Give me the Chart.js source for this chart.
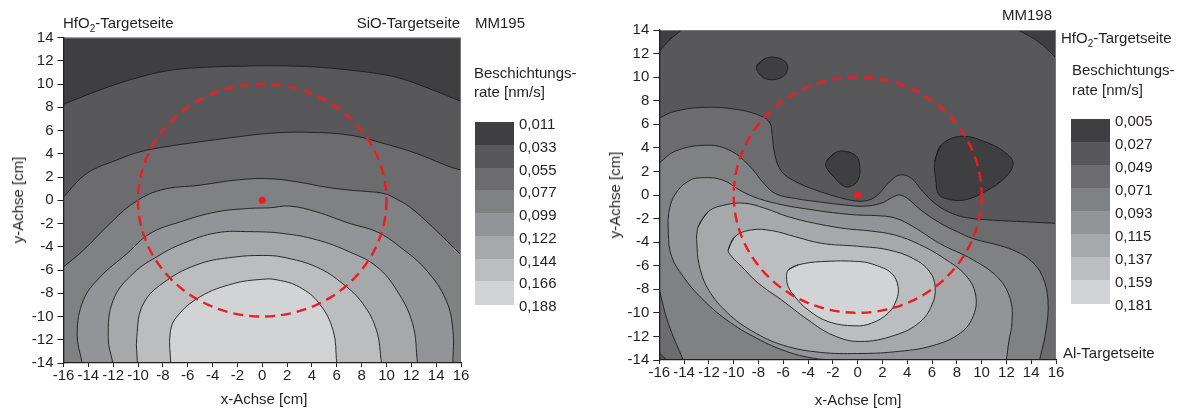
<!DOCTYPE html>
<html>
<head>
<meta charset="utf-8">
<script src="https://cdn.jsdelivr.net/npm/chart.js@4.4.0/dist/chart.umd.min.js"></script>
<style>
  html, body { margin: 0; padding: 0; background: #fff; }
  body { width: 1184px; height: 410px; position: relative; overflow: hidden;
         font-family: "Liberation Sans", Arial, sans-serif; color: #231f20; }
  canvas { position: absolute; top: 0; }
  .t { position: absolute; font-size: 15px; line-height: 18px; white-space: nowrap; }
  .t sub { font-size: 10px; line-height: 0; vertical-align: baseline; position: relative; top: 4px; }
  .sw { position: absolute; }
</style>
</head>
<body>
<canvas id="mm195" width="595" height="410" style="left:0"></canvas>
<canvas id="mm198" width="589" height="410" style="left:595px"></canvas>

<div class="t" style="left:63px;top:14px">HfO<sub>2</sub>-Targetseite</div>
<div class="t" style="right:724px;top:14px">SiO-Targetseite</div>
<div class="t" style="left:475px;top:14px">MM195</div>
<div class="t" style="left:474px;top:64px">Beschichtungs-</div>
<div class="t" style="left:474px;top:83px">rate [nm/s]</div>
<div class="t" style="left:264px;top:390px;transform:translateX(-50%)">x-Achse [cm]</div>
<div class="t" style="left:18px;top:200px;transform:translate(-50%,-50%) rotate(-90deg)">y-Achse [cm]</div>

<div class="t" style="left:1002px;top:6px">MM198</div>
<div class="t" style="left:1061px;top:29px">HfO<sub>2</sub>-Targetseite</div>
<div class="t" style="left:1072px;top:61px">Beschichtungs-</div>
<div class="t" style="left:1072px;top:81px">rate [nm/s]</div>
<div class="t" style="left:1063px;top:344px">Al-Targetseite</div>
<div class="t" style="left:858px;top:391px;transform:translateX(-50%)">x-Achse [cm]</div>
<div class="t" style="left:615px;top:195px;transform:translate(-50%,-50%) rotate(-90deg)">y-Achse [cm]</div>

<div id="keys"></div>

<script>
// ---- axes ----
const xTicks = [-16, -14, -12, -10, -8, -6, -4, -2, 0, 2, 4, 6, 8, 10, 12, 14, 16];
const yTicks = [-14, -12, -10, -8, -6, -4, -2, 0, 2, 4, 6, 8, 10, 12, 14];

// ---- rate classes [nm/s] ----
const mm195Levels = ['0,011', '0,033', '0,055', '0,077', '0,099', '0,122', '0,144', '0,166', '0,188'];
const mm198Levels = ['0,005', '0,027', '0,049', '0,071', '0,093', '0,115', '0,137', '0,159', '0,181'];

// ---- substrate outline and centre [cm] ----
const substrateCentre = [0, 0];
const substrateRadius = 10;

// ---- MM195 contour lines [x, y in cm] ----
const mm195Line1 = [[-16,8.26],[-13.05,9.49],[-10.37,10.44],[-7.69,11.13],[-5.01,11.41],[-1.0,11.55],[2.0,11.55],[4.5,11.45],[7.05,11.2],[9.5,10.85],[11.07,10.5],[13.7,9.5],[16,8.5]];
const mm195Line2 = [[-16,0.29],[-14.12,2.31],[-11.71,3.46],[-9.83,4.17],[-7.5,4.65],[-5.01,5.03],[-2.0,5.45],[0.61,5.76],[3.5,5.85],[7.05,5.6],[9.72,4.9],[12.4,4.03],[15.1,2.88],[16,2.6]];
const mm195Line3 = [[-16,-5.74],[-14.4,-4.3],[-12.25,-2.0],[-10.4,-0.27],[-8.2,0.87],[-5.0,1.3],[-2.0,1.75],[0.61,1.85],[3.0,1.55],[5.0,1.15],[7.05,0.87],[8.5,0.75],[9.9,0.55],[10.8,0.1],[11.87,-0.57],[13.7,-2.3],[16,-4.7]];
const mm195Line4 = [[-14.5,-14],[-14.9,-11.5],[-14.4,-8.6],[-13.05,-6.6],[-10.9,-4.6],[-9.03,-2.86],[-6.6,-1.86],[-3.67,-1.0],[-1.0,-0.7],[0.6,-0.65],[2.2,-0.5],[4.37,-1.0],[7.05,-2.0],[9.2,-2.7],[11.07,-4.0],[13.2,-6.0],[14.8,-8.6],[15.35,-11.2],[15.35,-14]];
const mm195Line5 = [[-12.03,-14],[-12.4,-11.8],[-12.0,-8.6],[-10.4,-6.3],[-8.23,-4.7],[-6.35,-3.7],[-3.67,-2.8],[-1.0,-2.7],[1.68,-2.86],[4.37,-3.4],[7.05,-4.45],[9.2,-5.7],[10.8,-7.7],[12.1,-10.6],[12.5,-14]];
const mm195Line6 = [[-10.05,-14],[-10.1,-11.8],[-9.57,-8.9],[-7.7,-6.9],[-5.0,-5.45],[-2.33,-4.9],[0.0,-4.75],[1.68,-4.9],[4.37,-5.74],[6.5,-7.2],[8.1,-8.9],[9.2,-11.2],[9.6,-14]];
const mm195Line7 = [[-7.37,-14],[-7.42,-11.5],[-6.9,-10.05],[-5.0,-8.3],[-2.33,-7.17],[0.0,-6.8],[1.2,-6.85],[3.0,-7.47],[4.6,-8.9],[5.7,-11.2],[6.0,-14]];

// ---- MM198 contour lines [x, y in cm] ----
const mm198CornerTL = [[-16,12.19],[-15.14,13.18],[-14.2,14]];
const mm198CornerTR = [[12.93,14],[14.54,13.04],[16,11.63]];
const mm198IslandN = [[-8.15,10.92],[-7.48,11.57],[-6.68,11.68],[-5.87,11.34],[-5.65,10.72],[-6.0,10.07],[-6.94,9.78],[-7.75,10.07]];
const mm198IslandC = [[-2.51,2.86],[-1.84,3.57],[-1.04,3.71],[-0.1,3.29],[0.17,2.41],[0.04,1.28],[-0.63,0.71],[-1.2,0.8],[-1.84,1.45],[-2.51,2.3]];
const mm198IslandE = [[6.22,2.86],[6.76,4.27],[8.37,4.98],[10.51,4.42],[12.12,3.42],[12.53,2.58],[11.86,1.45],[10.51,0.43],[8.63,-0.42],[7.02,-0.27],[6.48,0.15],[6.35,0.88]];
const mm198Line1 = [[-16,6.54],[-14.74,7.1],[-12.32,7.44],[-9.63,7.24],[-7.75,6.68],[-7.08,6.11],[-6.9,5.12],[-6.68,3.42],[-6.14,2.01],[-5.07,1.17],[-3.45,0.45],[-1.84,-0.1],[-0.5,-0.45],[0.6,-0.5],[1.5,-0.1],[2.59,1.13],[3.4,1.7],[4.34,1.42],[5.14,0.43],[6.22,-0.7],[7.29,-1.41],[8.63,-1.89],[10.51,-2.11],[13.2,-2.26],[16,-2.4]];
const mm198Line1b = [[-16,-13.4],[-15.4,-14]];
const mm198Line2 = [[-16,2.72],[-14.74,3.71],[-12.32,4.22],[-10.44,3.85],[-8.83,2.58],[-7.48,0.88],[-6.6,0.1],[-5.0,-0.3],[-3.0,-0.6],[-1.0,-0.85],[0.5,-0.95],[1.9,-0.7],[2.8,-0.2],[3.4,0.0],[4.1,-0.35],[5.0,-1.2],[6.6,-2.35],[8.0,-3.1],[9.3,-3.7],[11.5,-4.3],[12.8,-4.8],[14.0,-5.6],[14.9,-6.9],[15.35,-8.9],[15.2,-11.45],[14.68,-14]];
const mm198Line2b = [[-16,-8.05],[-15.27,-10.9],[-14.07,-14]];
const mm198Line3 = [[-2.0,-14],[-3.58,-13.85],[-5.73,-13.28],[-8.15,-12.15],[-10.57,-10.6],[-12.72,-8.62],[-14.07,-6.92],[-15.0,-5.23],[-15.27,-3.24],[-15.14,-0.99],[-14.47,0.43],[-13.6,1.2],[-12.86,1.45],[-10.97,1.3],[-9.36,0.32],[-8.0,-0.3],[-6.0,-0.85],[-4.0,-1.2],[-2.0,-1.5],[0,-1.7],[1.5,-1.75],[3.0,-1.95],[4.5,-2.7],[6.6,-4.1],[9.3,-5.5],[11.3,-7.0],[12.3,-8.8],[12.45,-10.8],[12.2,-12.4],[12.0,-14]];
const mm198Line4 = [[-12.86,-2.68],[-12.05,-1.41],[-10.7,-0.84],[-9.1,-0.7],[-7.48,-1.13],[-5.6,-1.84],[-3.45,-2.4],[-1.0,-2.85],[1.0,-3.05],[3.0,-3.4],[5.0,-4.2],[7.0,-5.4],[8.7,-6.8],[9.5,-8.4],[9.35,-10.2],[8.3,-11.7],[6.0,-12.8],[3.0,-13.3],[0,-13.45],[-3.0,-13.35],[-6.0,-12.75],[-8.5,-11.55],[-10.5,-10.0],[-12.0,-8.1],[-12.7,-6.3],[-12.95,-4.5]];
const mm198Line5 = [[-10.44,-4.66],[-9.9,-3.53],[-8.55,-2.96],[-6.94,-3.02],[-5.07,-3.53],[-2.91,-4.1],[0,-4.35],[2.45,-4.65],[4.5,-5.4],[5.8,-6.5],[6.25,-7.8],[6.0,-9.3],[5.0,-10.8],[3.0,-11.9],[0.17,-12.43],[-1.98,-11.9],[-4.0,-10.6],[-6.14,-8.9],[-8.02,-7.48],[-9.36,-6.07],[-10.17,-5.2]];
const mm198Line6 = [[-5.6,-6.36],[-4.8,-5.93],[-2.91,-5.65],[0.17,-5.65],[1.38,-5.93],[2.73,-6.64],[3.26,-7.77],[3.13,-8.9],[2.45,-10.03],[1.11,-10.88],[-0.23,-11.1],[-2.38,-10.74],[-4.0,-9.75],[-5.07,-8.62],[-5.6,-7.77],[-5.73,-6.92]];

const plotFrame = [[-16,-14],[16,-14],[16,14],[-16,14],[-16,-14]];

// ---- styling ----
const shades = ['#3f3f41', '#58585a', '#6c6c6e', '#808183', '#939497', '#a7a8aa', '#bcbdbf', '#d2d3d5'];
const FONT = '"Liberation Sans", Arial, sans-serif';
const INK = '#231f20';
Chart.defaults.font.family = FONT;

// ---- helpers building closed outlines from the contour runs ----
const pts  = run => run.map(p => ({ x: p[0], y: p[1] }));
const bend = run => [run[0], ...run, run[run.length - 1]];   // doubled ends keep edge segments straight
const loop = run => [...run, run[0], run[1]];
const rev  = run => run.slice().reverse();

function band(points, colour, extra) {
  return Object.assign({
    data: pts(points), backgroundColor: colour, borderColor: '#1c1c1c', borderWidth: 0.9,
    fill: 'shape', tension: 0.4, pointRadius: 0, pointHoverRadius: 0, pointHitRadius: 0
  }, extra || {});
}
function stack(list) {
  list.forEach((d, i) => { d.order = list.length - i + 1; });
  list.push({ data: pts([substrateCentre]), showLine: false, fill: false, order: 0,
              pointRadius: 3.6, pointBackgroundColor: '#ec1c24', pointBorderWidth: 0 });
  return list;
}

const mm195Sets = stack([
  band(plotFrame, shades[0], { tension: 0, borderWidth: 0 }),
  band([...bend(mm195Line1), ...bend([[16,-14],[-16,-14]]), mm195Line1[0]], shades[1]),
  band([...bend(mm195Line2), ...bend([[16,-14],[-16,-14]]), mm195Line2[0]], shades[2]),
  band([...bend(mm195Line3), ...bend([[16,-14],[-16,-14]]), mm195Line3[0]], shades[3]),
  band([...bend(mm195Line4), mm195Line4[0]], shades[4]),
  band([...bend(mm195Line5), mm195Line5[0]], shades[5]),
  band([...bend(mm195Line6), mm195Line6[0]], shades[6]),
  band([...bend(mm195Line7), mm195Line7[0]], shades[7])
]);

const mm198Sets = stack([
  band(plotFrame, shades[1], { tension: 0, borderWidth: 0 }),
  band([...bend(mm198CornerTL), ...bend([[-16,14]]), mm198CornerTL[0]], shades[0]),
  band([...bend(mm198CornerTR), ...bend([[16,14]]), mm198CornerTR[0]], shades[0]),
  band(loop(mm198IslandN), shades[0]),
  band(loop(mm198IslandC), shades[0]),
  band(loop(mm198IslandE), shades[0]),
  band([...bend(mm198Line1), ...bend([[16,-14]]), ...bend(rev(mm198Line1b)), mm198Line1[0]], shades[2]),
  band([...bend(mm198Line2), ...bend(rev(mm198Line2b)), mm198Line2[0]], shades[3]),
  band([...bend(mm198Line3), mm198Line3[0]], shades[4]),
  band(loop(mm198Line4), shades[5]),
  band(loop(mm198Line5), shades[6]),
  band(loop(mm198Line6), shades[7])
]);

// frame on the open sides plus the dashed substrate outline
const overlay = {
  id: 'overlay',
  afterDatasetsDraw(chart) {
    const { ctx, chartArea: a, scales: { x, y } } = chart;
    ctx.save();
    ctx.strokeStyle = '#77777a';
    ctx.lineWidth = 1;
    ctx.beginPath();
    ctx.moveTo(a.left, a.top + 0.5);
    ctx.lineTo(a.right - 0.5, a.top + 0.5);
    ctx.lineTo(a.right - 0.5, a.bottom);
    ctx.stroke();

    const cx = x.getPixelForValue(substrateCentre[0]);
    const cy = y.getPixelForValue(substrateCentre[1]);
    const rx = x.getPixelForValue(substrateCentre[0] + substrateRadius) - cx;
    const ry = cy - y.getPixelForValue(substrateCentre[1] + substrateRadius);
    ctx.setLineDash([10, 6]);
    ctx.strokeStyle = '#ec1c24';
    ctx.lineWidth = 2.4;
    ctx.beginPath();
    ctx.ellipse(cx, cy, rx, ry, 0, 0, Math.PI * 2);
    ctx.stroke();
    ctx.restore();
  }
};

function axis(values, min, max, horizontal, size) {
  return {
    type: 'linear', min, max,
    afterBuildTicks: s => { s.ticks = values.map(v => ({ value: v })); },
    afterFit: s => { if (horizontal) s.height = size; else s.width = size; },
    ticks: { autoSkip: false, maxRotation: 0, minRotation: 0, color: INK,
             font: { family: FONT, size: 15 }, padding: horizontal ? 0 : 4,
             callback: v => String(v) },
    grid: { drawOnChartArea: false, drawTicks: true, tickLength: horizontal ? 4 : 6,
            color: INK, lineWidth: 1 },
    border: { display: true, color: INK, width: 1.3, z: 1 }
  };
}

function contourChart(id, datasets, pad, yWidth, xHeight) {
  return new Chart(document.getElementById(id), {
    type: 'line',
    data: { datasets },
    options: {
      responsive: false, animation: false, events: [],
      layout: { padding: pad },
      elements: { line: { capBezierPoints: false } },
      plugins: { legend: { display: false }, tooltip: { enabled: false } },
      scales: { x: axis(xTicks, -16, 16, true, xHeight), y: axis(yTicks, -14, 14, false, yWidth) }
    },
    plugins: [overlay]
  });
}

contourChart('mm195', mm195Sets, { left: 0, top: 37.5, right: 134, bottom: 17 }, 63.5, 30);
contourChart('mm198', mm198Sets, { left: 0, top: 30, right: 128, bottom: 20 }, 64.3, 30);

// colour keys
function colourKey(levels, left, top, step) {
  const host = document.getElementById('keys');
  for (let i = 0; i < levels.length - 1; i++) {
    const b = document.createElement('div');
    b.className = 'sw';
    b.style.cssText = `left:${left}px;top:${top + i * step}px;width:39px;height:${step + 0.5}px;background:${shades[i]}`;
    host.appendChild(b);
  }
  levels.forEach((txt, i) => {
    const t = document.createElement('div');
    t.className = 't';
    t.textContent = txt;
    t.style.left = (left + 44) + 'px';
    t.style.top = (top + 2 + i * step - 9) + 'px';
    host.appendChild(t);
  });
}
colourKey(mm195Levels, 475, 122, 22.75);
colourKey(mm198Levels, 1071, 119, 23);
</script>
</body>
</html>
